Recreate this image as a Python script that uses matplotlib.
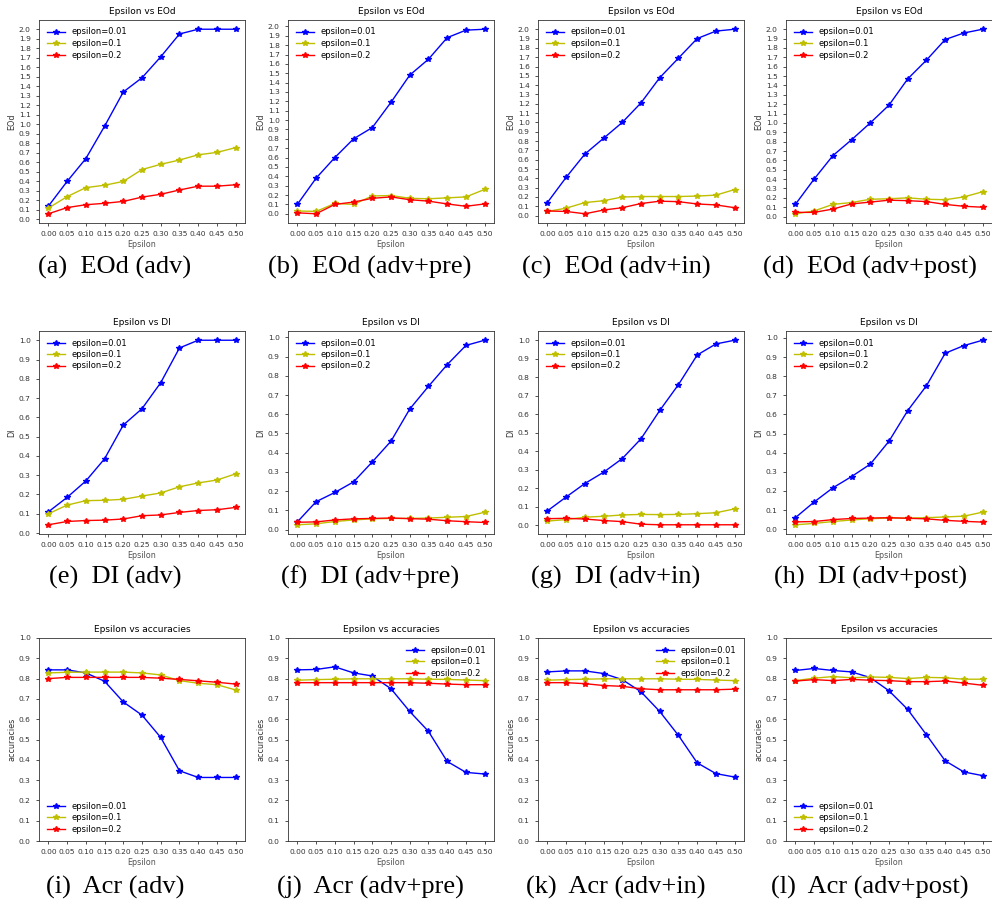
import matplotlib
matplotlib.use('Agg')
import matplotlib.pyplot as plt
from matplotlib.ticker import MultipleLocator
import numpy as np

# eixo x comum a todos os graficos
eps = [0.00, 0.05, 0.10, 0.15, 0.20, 0.25, 0.30, 0.35, 0.40, 0.45, 0.50]
series_labels = ['epsilon=0.01', 'epsilon=0.1', 'epsilon=0.2']

# EOd
eod_adv_001 = [0.14, 0.40, 0.64, 0.98, 1.34, 1.49, 1.71, 1.95, 2.00, 2.00, 2.00]
eod_adv_01 = [0.12, 0.24, 0.335, 0.36, 0.40, 0.525, 0.58, 0.625, 0.68, 0.705, 0.755]
eod_adv_02 = [0.06, 0.125, 0.155, 0.17, 0.19, 0.235, 0.265, 0.31, 0.35, 0.35, 0.365]

eod_pre_001 = [0.10, 0.38, 0.60, 0.80, 0.92, 1.19, 1.48, 1.65, 1.88, 1.96, 1.97]
eod_pre_01 = [0.03, 0.025, 0.11, 0.10, 0.19, 0.195, 0.165, 0.16, 0.17, 0.18, 0.26]
eod_pre_02 = [0.01, 0.00, 0.10, 0.125, 0.165, 0.18, 0.15, 0.135, 0.105, 0.08, 0.105]

eod_in_001 = [0.14, 0.41, 0.66, 0.83, 1.00, 1.21, 1.48, 1.69, 1.90, 1.98, 2.00]
eod_in_01 = [0.045, 0.08, 0.14, 0.16, 0.20, 0.205, 0.205, 0.205, 0.21, 0.22, 0.28]
eod_in_02 = [0.05, 0.045, 0.02, 0.06, 0.085, 0.13, 0.155, 0.15, 0.125, 0.115, 0.085]

eod_post_001 = [0.13, 0.40, 0.65, 0.82, 1.00, 1.19, 1.47, 1.67, 1.89, 1.96, 2.00]
eod_post_01 = [0.03, 0.06, 0.13, 0.15, 0.185, 0.19, 0.20, 0.185, 0.18, 0.21, 0.265]
eod_post_02 = [0.045, 0.045, 0.08, 0.135, 0.155, 0.175, 0.17, 0.16, 0.13, 0.11, 0.10]

# DI
di_adv_001 = [0.11, 0.185, 0.27, 0.385, 0.56, 0.645, 0.78, 0.96, 1.00, 1.00, 1.00]
di_adv_01 = [0.10, 0.145, 0.168, 0.17, 0.175, 0.192, 0.208, 0.24, 0.26, 0.275, 0.307]
di_adv_02 = [0.043, 0.06, 0.065, 0.067, 0.073, 0.09, 0.094, 0.107, 0.117, 0.121, 0.133]

di_pre_001 = [0.04, 0.145, 0.193, 0.248, 0.352, 0.46, 0.627, 0.745, 0.858, 0.958, 0.985]
di_pre_01 = [0.025, 0.03, 0.042, 0.05, 0.056, 0.058, 0.058, 0.06, 0.064, 0.068, 0.09]
di_pre_02 = [0.038, 0.04, 0.05, 0.056, 0.058, 0.06, 0.057, 0.054, 0.046, 0.041, 0.037]

di_in_001 = [0.077, 0.152, 0.225, 0.286, 0.36, 0.467, 0.62, 0.76, 0.92, 0.98, 1.00]
di_in_01 = [0.022, 0.03, 0.043, 0.048, 0.055, 0.058, 0.057, 0.058, 0.062, 0.067, 0.088]
di_in_02 = [0.035, 0.037, 0.033, 0.025, 0.019, 0.005, 0.002, 0.002, 0.002, 0.002, 0.002]

di_post_001 = [0.06, 0.142, 0.216, 0.275, 0.34, 0.46, 0.62, 0.75, 0.92, 0.96, 0.988]
di_post_01 = [0.023, 0.03, 0.04, 0.048, 0.055, 0.058, 0.058, 0.06, 0.064, 0.068, 0.089]
di_post_02 = [0.038, 0.04, 0.05, 0.056, 0.058, 0.06, 0.057, 0.054, 0.046, 0.041, 0.037]

# acuracias
acc_adv_001 = [0.843, 0.843, 0.828, 0.787, 0.685, 0.62, 0.51, 0.346, 0.313, 0.313, 0.313]
acc_adv_01 = [0.828, 0.831, 0.832, 0.832, 0.832, 0.828, 0.818, 0.79, 0.777, 0.77, 0.744]
acc_adv_02 = [0.80, 0.806, 0.806, 0.806, 0.806, 0.806, 0.802, 0.796, 0.789, 0.782, 0.773]

acc_pre_001 = [0.843, 0.845, 0.858, 0.828, 0.813, 0.75, 0.638, 0.54, 0.392, 0.338, 0.33]
acc_pre_01 = [0.792, 0.795, 0.797, 0.799, 0.799, 0.799, 0.799, 0.797, 0.796, 0.793, 0.79]
acc_pre_02 = [0.78, 0.78, 0.78, 0.78, 0.78, 0.78, 0.78, 0.777, 0.773, 0.77, 0.77]

acc_in_001 = [0.833, 0.838, 0.838, 0.825, 0.795, 0.735, 0.638, 0.52, 0.385, 0.332, 0.315]
acc_in_01 = [0.792, 0.795, 0.797, 0.799, 0.799, 0.799, 0.799, 0.797, 0.796, 0.793, 0.79]
acc_in_02 = [0.78, 0.78, 0.775, 0.766, 0.762, 0.75, 0.745, 0.745, 0.745, 0.745, 0.748]

acc_post_001 = [0.84, 0.85, 0.84, 0.833, 0.805, 0.74, 0.648, 0.523, 0.395, 0.34, 0.322]
acc_post_01 = [0.79, 0.802, 0.81, 0.804, 0.808, 0.806, 0.80, 0.806, 0.804, 0.797, 0.797]
acc_post_02 = [0.788, 0.795, 0.79, 0.796, 0.792, 0.79, 0.785, 0.785, 0.788, 0.778, 0.767]

captions = [
    '(a)  EOd (adv)', '(b)  EOd (adv+pre)', '(c)  EOd (adv+in)', '(d)  EOd (adv+post)',
    '(e)  DI (adv)', '(f)  DI (adv+pre)', '(g)  DI (adv+in)', '(h)  DI (adv+post)',
    '(i)  Acr (adv)', '(j)  Acr (adv+pre)', '(k)  Acr (adv+in)', '(l)  Acr (adv+post)',
]

W, H = 992, 905
fig = plt.figure(figsize=(W / 100, H / 100), dpi=100)

col_left = [39, 288, 538, 786]
row_top = [20, 331, 638]
ax_w, ax_h = 206, 203
cap_x = [115, 370, 616, 870]
cap_y = [267, 577, 887]

linhas = [
    ('EOd', [(eod_adv_001, eod_adv_01, eod_adv_02), (eod_pre_001, eod_pre_01, eod_pre_02),
             (eod_in_001, eod_in_01, eod_in_02), (eod_post_001, eod_post_01, eod_post_02)]),
    ('DI', [(di_adv_001, di_adv_01, di_adv_02), (di_pre_001, di_pre_01, di_pre_02),
            (di_in_001, di_in_01, di_in_02), (di_post_001, di_post_01, di_post_02)]),
    ('accuracies', [(acc_adv_001, acc_adv_01, acc_adv_02), (acc_pre_001, acc_pre_01, acc_pre_02),
                    (acc_in_001, acc_in_01, acc_in_02), (acc_post_001, acc_post_01, acc_post_02)]),
]
legend_locs = [['upper left'] * 4, ['upper left'] * 4,
               ['lower left', 'upper right', 'upper right', 'lower left']]
cores = ['b', 'y', 'r']

for r, (nome, paineis) in enumerate(linhas):
    for c, dados in enumerate(paineis):
        L, T = col_left[c], row_top[r]
        ax = fig.add_axes([L / W, 1 - (T + ax_h) / H, ax_w / W, ax_h / H])
        for serie, cor, rot in zip(dados, cores, series_labels):
            ax.plot(eps, serie, '*-', color=cor, label=rot, lw=1.0, markersize=4)
        ax.set_xticks(eps)
        ax.set_xticklabels(['%.2f' % e for e in eps])
        ax.yaxis.set_major_locator(MultipleLocator(0.1))
        if nome == 'accuracies':
            ax.set_ylim(0, 1.0)
        ax.tick_params(labelsize=5.4, length=2.5, width=0.6, colors='#333333')
        for sp in ax.spines.values():
            sp.set_linewidth(0.6)
            sp.set_color('#333333')
        ax.set_title('Epsilon vs ' + nome, fontsize=6.5, pad=4)
        ax.set_xlabel('Epsilon', fontsize=5.8, color='#555555', labelpad=2)
        ax.set_ylabel(nome, fontsize=5.8, color='#333333', labelpad=2)
        ax.legend(loc=legend_locs[r][c], frameon=False, fontsize=6, handlelength=2.2,
                  labelspacing=0.3)
        fig.text(cap_x[c] / W, 1 - cap_y[r] / H, captions[r * 4 + c], ha='center', va='center',
                 fontsize=19, family='Liberation Serif')

fig.savefig('out.png', dpi=100)
